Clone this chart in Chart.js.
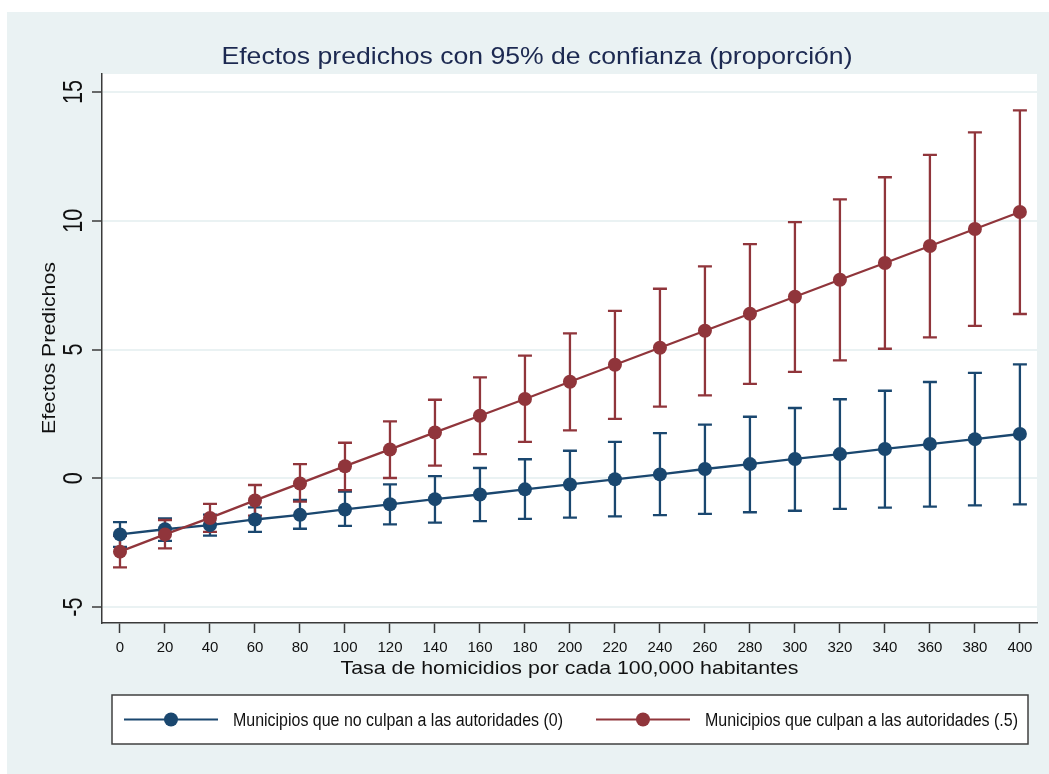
<!DOCTYPE html>
<html>
<head>
<meta charset="utf-8">
<script src="https://cdn.jsdelivr.net/npm/chart.js@4.4.1/dist/chart.umd.min.js"></script>
<style>
  html, body { margin: 0; padding: 0; background: #ffffff; }
  canvas { display: block; }
</style>
</head>
<body>
<canvas id="grafico" width="1049" height="774"></canvas>
<script>
// Tasa de homicidios (eje X)
const tasas = [0, 20, 40, 60, 80, 100, 120, 140, 160, 180, 200, 220, 240, 260, 280, 300, 320, 340, 360, 380, 400];

// Municipios que no culpan a las autoridades (0)
const efectoNoCulpan   = [-2.18, -1.98, -1.82, -1.60, -1.42, -1.21, -1.01, -0.81, -0.63, -0.43, -0.24, -0.04, 0.15, 0.36, 0.55, 0.75, 0.94, 1.14, 1.33, 1.52, 1.72];
const inferiorNoCulpan = [-2.66, -2.43, -2.23, -2.08, -1.96, -1.85, -1.79, -1.72, -1.66, -1.58, -1.53, -1.48, -1.43, -1.38, -1.32, -1.26, -1.19, -1.14, -1.10, -1.05, -1.01];
const superiorNoCulpan = [-1.70, -1.56, -1.41, -1.13, -0.84, -0.52, -0.24, 0.08, 0.40, 0.74, 1.07, 1.41, 1.75, 2.08, 2.39, 2.73, 3.07, 3.40, 3.74, 4.09, 4.42];

// Municipios que culpan a las autoridades (.5)
const efectoCulpan   = [-2.85, -2.18, -1.54, -0.86, -0.20, 0.47, 1.12, 1.78, 2.43, 3.08, 3.75, 4.41, 5.07, 5.73, 6.39, 7.05, 7.71, 8.36, 9.02, 9.68, 10.34];
const inferiorCulpan = [-3.46, -2.72, -2.08, -1.45, -0.91, -0.46, 0.01, 0.49, 0.94, 1.41, 1.86, 2.31, 2.78, 3.22, 3.67, 4.13, 4.58, 5.03, 5.47, 5.92, 6.38];
const superiorCulpan = [-2.24, -1.62, -0.99, -0.26, 0.55, 1.38, 2.21, 3.05, 3.92, 4.76, 5.63, 6.50, 7.36, 8.23, 9.09, 9.95, 10.83, 11.69, 12.56, 13.43, 14.29];

// Marcas de los ejes
const ticksX = [0, 20, 40, 60, 80, 100, 120, 140, 160, 180, 200, 220, 240, 260, 280, 300, 320, 340, 360, 380, 400];
const ticksY = [-5, 0, 5, 10, 15];

// Textos
const titulo = 'Efectos predichos con 95% de confianza (proporción)';
const tituloX = 'Tasa de homicidios por cada 100,000 habitantes';
const tituloY = 'Efectos Predichos';
const etiquetas = ['Municipios que no culpan a las autoridades (0)', 'Municipios que culpan a las autoridades (.5)'];

const AZUL = '#1A476F';
const GRANATE = '#90353B';
const FONDO = '#EAF2F3';
const EJE = '#3A3A3A';
const FUENTE = '"Liberation Sans", Arial, Helvetica, sans-serif';

function puntos(valores) {
  return tasas.map((t, i) => ({ x: t, y: valores[i] }));
}

// Texto ajustado a un ancho dado (escala horizontal en el sentido del texto)
function texto(ctx, str, x, y, size, ancho, color, rot, align) {
  ctx.save();
  ctx.translate(x, y);
  if (rot) ctx.rotate(rot);
  ctx.font = size + 'px ' + FUENTE;
  const w = ctx.measureText(str).width;
  const s = ancho ? ancho / w : 1;
  ctx.scale(s, 1);
  ctx.textAlign = align || 'center';
  ctx.textBaseline = 'alphabetic';
  ctx.fillStyle = color;
  ctx.fillText(str, 0, 0);
  ctx.restore();
}

const decorado = {
  id: 'decorado',
  beforeDraw(chart) {
    const ctx = chart.ctx;
    const a = chart.chartArea;
    ctx.save();
    ctx.fillStyle = '#ffffff';
    ctx.fillRect(0, 0, chart.width, chart.height);
    ctx.fillStyle = FONDO;
    ctx.fillRect(7, 12, chart.width - 7, chart.height - 12);
    ctx.fillStyle = '#ffffff';
    ctx.fillRect(a.left, a.top, a.right - a.left, a.bottom - a.top);
    ctx.restore();
  },
  beforeDatasetsDraw(chart) {
    const ctx = chart.ctx;
    const xs = chart.scales.x, ys = chart.scales.y;
    ctx.save();
    ctx.lineCap = 'butt';
    chart.data.datasets.forEach(ds => {
      ctx.strokeStyle = ds.borderColor;
      ctx.lineWidth = 2.3;
      tasas.forEach((t, i) => {
        const px = xs.getPixelForValue(t);
        const y1 = ys.getPixelForValue(ds.inferior[i]);
        const y2 = ys.getPixelForValue(ds.superior[i]);
        ctx.beginPath();
        ctx.moveTo(px, y1); ctx.lineTo(px, y2);
        ctx.moveTo(px - 7, y1); ctx.lineTo(px + 7, y1);
        ctx.moveTo(px - 7, y2); ctx.lineTo(px + 7, y2);
        ctx.stroke();
      });
    });
    ctx.restore();
  },
  afterDraw(chart) {
    const ctx = chart.ctx;
    const xs = chart.scales.x, ys = chart.scales.y;
    const a = chart.chartArea;
    const cx = (a.left + a.right) / 2;

    // Título
    texto(ctx, titulo, 537, 64, 24, 631, '#1C2951');

    // Etiquetas del eje X
    ticksX.forEach(v => {
      texto(ctx, String(v), xs.getPixelForValue(v), 652, 15, 0, '#111111');
    });
    // Etiquetas del eje Y (giradas)
    ticksY.forEach(v => {
      ctx.save();
      ctx.translate(82, ys.getPixelForValue(v));
      ctx.rotate(-Math.PI / 2);
      ctx.font = '27px ' + FUENTE;
      ctx.scale(0.8, 1);
      ctx.textAlign = 'center';
      ctx.fillStyle = '#111111';
      ctx.fillText(String(v), 0, 0);
      ctx.restore();
    });

    // Títulos de ejes
    texto(ctx, tituloX, cx, 674, 19, 458, '#111111');
    texto(ctx, tituloY, 55, 348, 19, 172, '#111111', -Math.PI / 2);

    // Leyenda
    ctx.save();
    ctx.fillStyle = '#ffffff';
    ctx.fillRect(112, 695, 916, 49);
    ctx.strokeStyle = '#404040';
    ctx.lineWidth = 1.5;
    ctx.strokeRect(112, 695, 916, 49);
    const items = [
      { color: AZUL, x0: 124, x1: 218, txt: etiquetas[0], tx: 233, tw: 330 },
      { color: GRANATE, x0: 596, x1: 690, txt: etiquetas[1], tx: 705, tw: 313 }
    ];
    items.forEach(it => {
      ctx.strokeStyle = it.color;
      ctx.lineWidth = 2.2;
      ctx.beginPath();
      ctx.moveTo(it.x0, 719.5); ctx.lineTo(it.x1, 719.5);
      ctx.stroke();
      ctx.fillStyle = it.color;
      ctx.beginPath();
      ctx.arc((it.x0 + it.x1) / 2, 719.5, 7, 0, Math.PI * 2);
      ctx.fill();
      texto(ctx, it.txt, it.tx, 725.5, 18, it.tw, '#111111', 0, 'left');
    });
    ctx.restore();
  }
};

new Chart(document.getElementById('grafico'), {
  type: 'line',
  data: {
    datasets: [
      {
        label: etiquetas[0],
        data: puntos(efectoNoCulpan),
        inferior: inferiorNoCulpan,
        superior: superiorNoCulpan,
        borderColor: AZUL,
        backgroundColor: AZUL,
        borderWidth: 2.3,
        pointRadius: 7,
        pointBorderWidth: 0,
        pointBackgroundColor: AZUL,
        tension: 0,
        order: 2
      },
      {
        label: etiquetas[1],
        data: puntos(efectoCulpan),
        inferior: inferiorCulpan,
        superior: superiorCulpan,
        borderColor: GRANATE,
        backgroundColor: GRANATE,
        borderWidth: 2.3,
        pointRadius: 7,
        pointBorderWidth: 0,
        pointBackgroundColor: GRANATE,
        tension: 0,
        order: 1
      }
    ]
  },
  options: {
    responsive: false,
    animation: false,
    devicePixelRatio: 1,
    events: [],
    layout: { padding: { left: 0, top: 74, right: 12, bottom: 0 } },
    plugins: {
      legend: { display: false },
      title: { display: false },
      tooltip: { enabled: false }
    },
    scales: {
      x: {
        type: 'linear',
        min: -8,
        max: 407.6,
        afterBuildTicks: s => { s.ticks = ticksX.map(v => ({ value: v })); },
        afterFit: s => { s.height = 151; },
        ticks: { display: false },
        grid: {
          drawOnChartArea: false,
          drawTicks: true,
          tickLength: 10,
          tickColor: EJE,
          tickWidth: 1.5
        },
        border: { display: true, color: EJE, width: 1.5 }
      },
      y: {
        type: 'linear',
        min: -5.62,
        max: 15.70,
        afterBuildTicks: s => { s.ticks = ticksY.map(v => ({ value: v })); },
        afterFit: s => { s.width = 102; },
        ticks: { display: false },
        grid: {
          color: FONDO,
          lineWidth: 2,
          drawTicks: true,
          tickLength: 10,
          tickColor: EJE,
          tickWidth: 1.5
        },
        border: { display: true, color: EJE, width: 1.5 }
      }
    }
  },
  plugins: [decorado]
});
</script>
</body>
</html>
